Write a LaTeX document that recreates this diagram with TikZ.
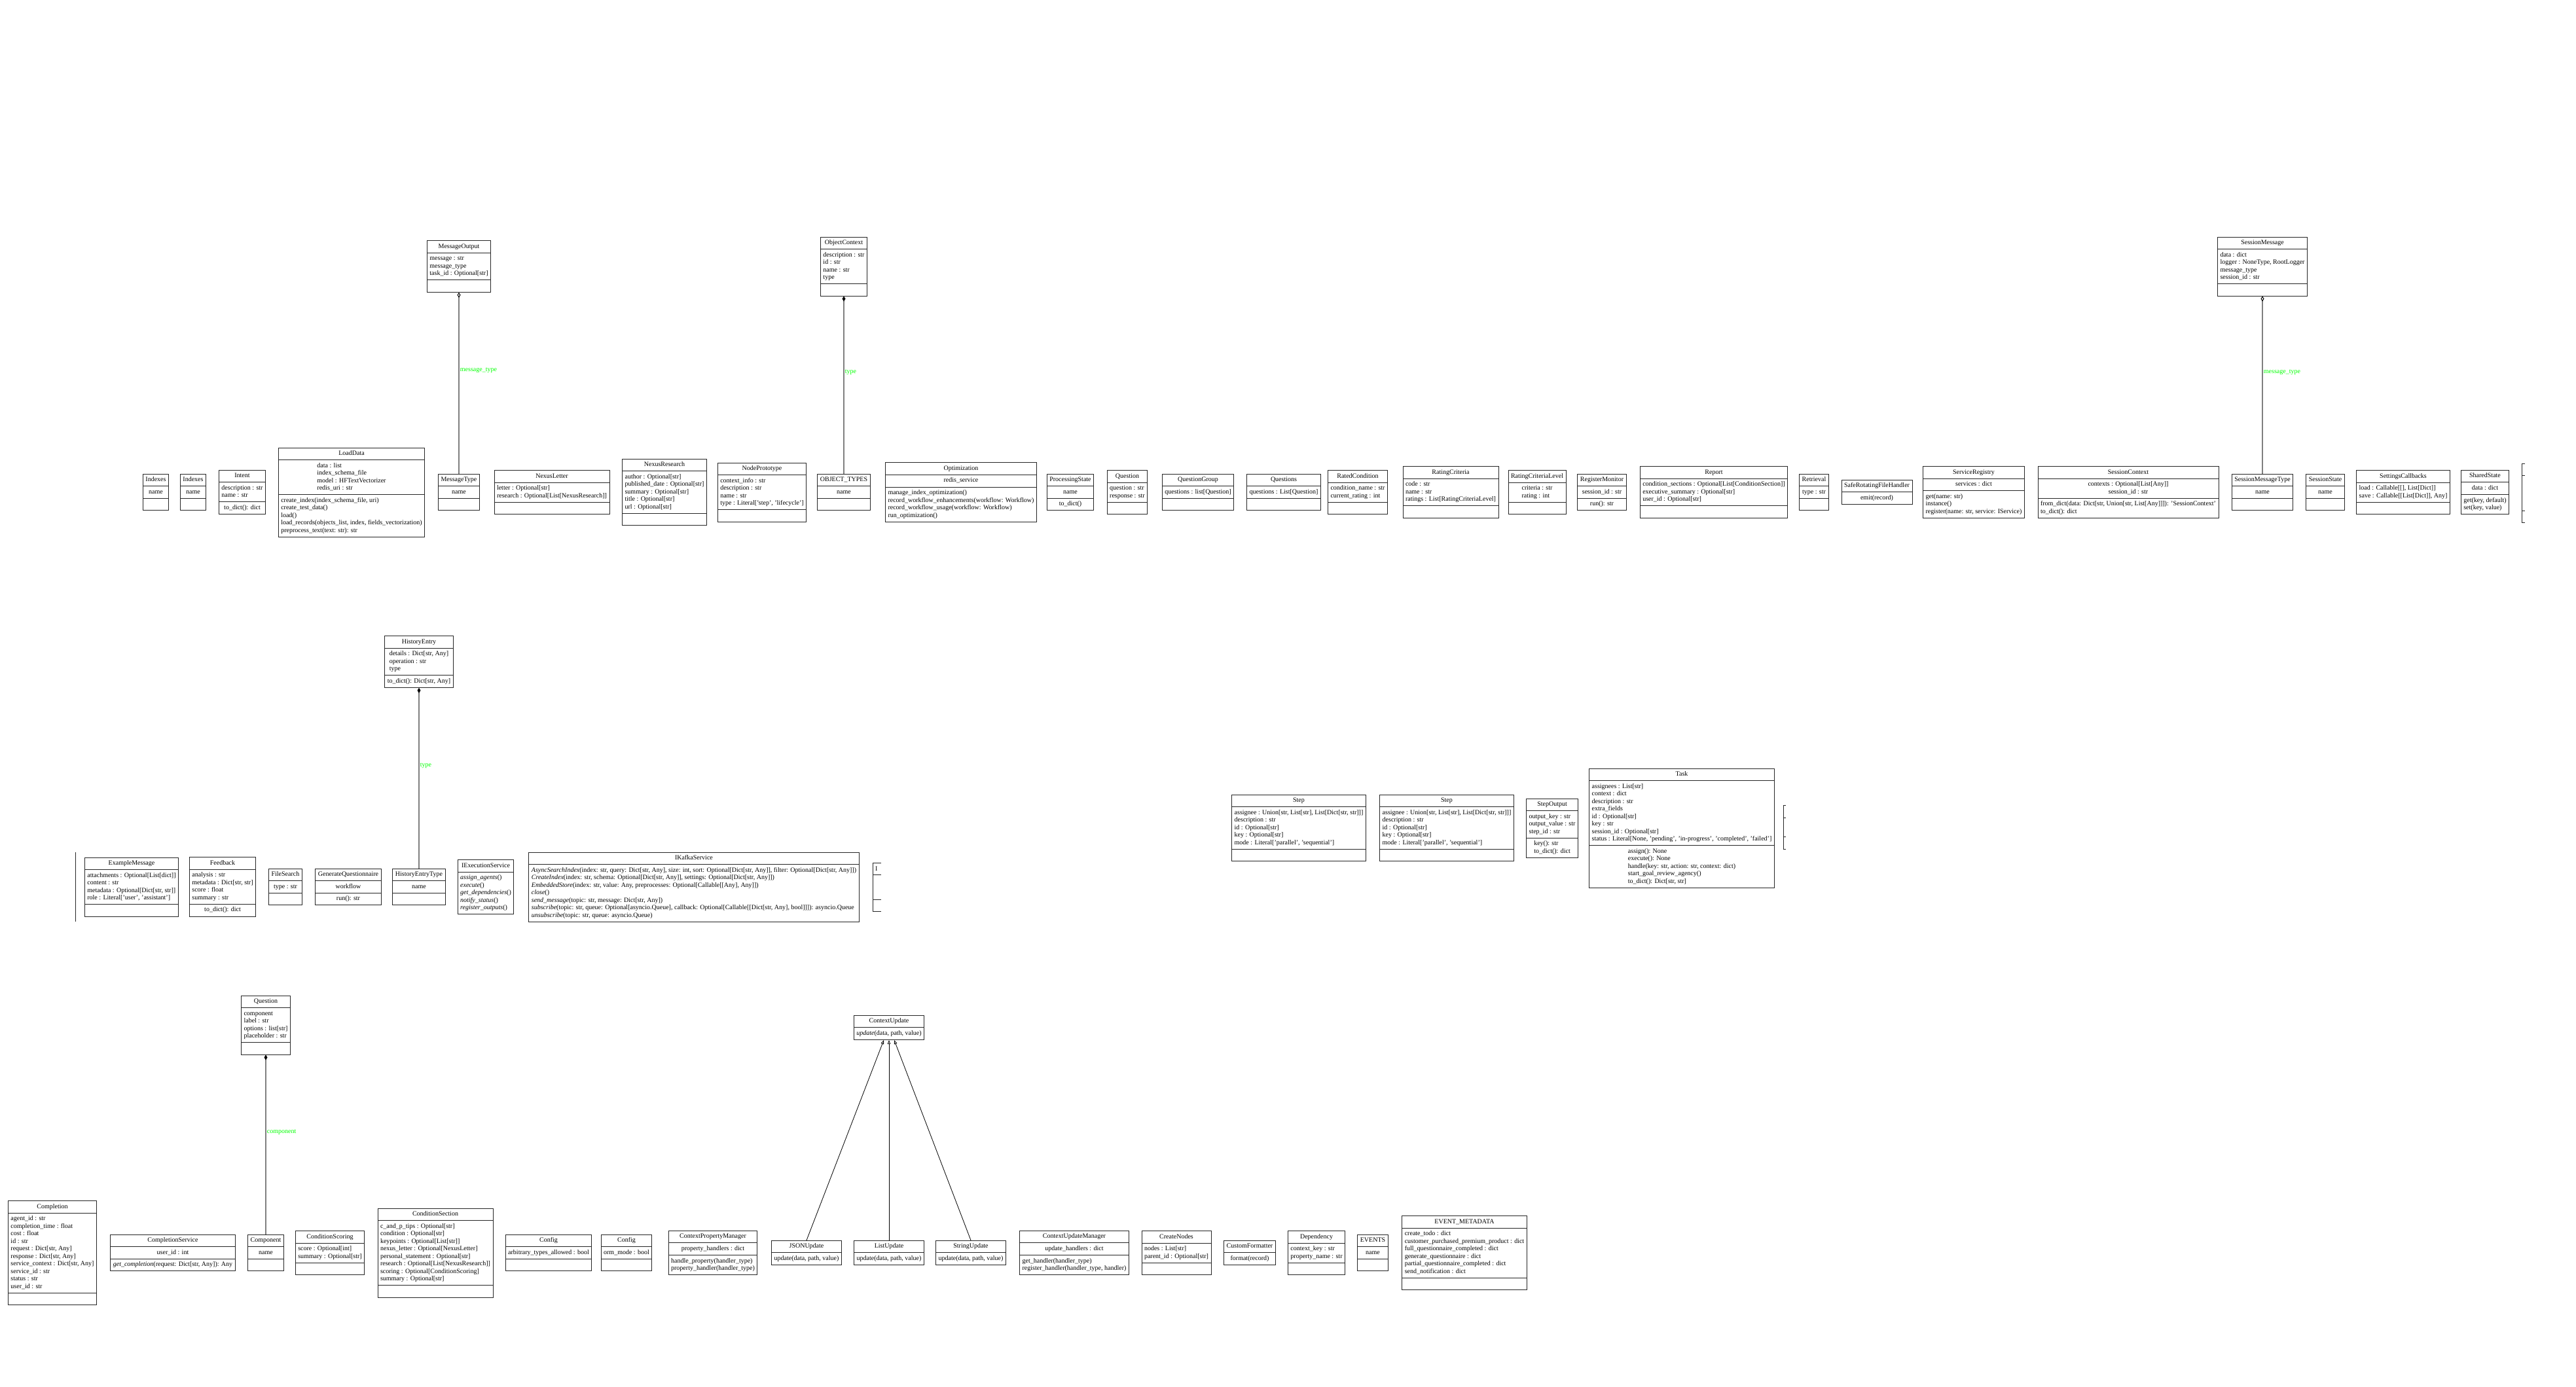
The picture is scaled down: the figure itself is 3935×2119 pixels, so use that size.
\documentclass[tikz,border=0pt]{standalone}
\usepackage{fontspec}
\setmainfont{Liberation Serif}
\usetikzlibrary{arrows.meta, shapes.multipart}
\definecolor{lblgreen}{HTML}{00FF00}
\definecolor{edgegray}{HTML}{7F7F7F}
\newcommand{\rows}[1]{\begin{tabular}{@{}l@{}}#1\end{tabular}}
\newcommand{\crows}[1]{\begin{tabular}{@{}c@{}}#1\end{tabular}}

\begin{document}
\begin{tikzpicture}[x=1pt, y=-1pt,
    cls/.style={rectangle split, rectangle split parts=3, draw=black!85,
                line width=1pt, inner xsep=4pt, inner ysep=3pt,
                font=\fontsize{10}{11.5}\selectfont, execute at begin node=\strut},
    cls2/.style={cls, rectangle split parts=2},
    frag/.style={draw=black!85, line width=1pt},
    assoc/.style={draw=edgegray, line width=1.8pt},
    agg/.style={assoc, -{Diamond[open, length=8pt, width=5pt, line width=1pt, color=black]}},
    cmp/.style={assoc, -{Diamond[length=8pt, width=5pt, color=black]}},
    inh/.style={line width=0.8pt, -{Triangle[open, length=6pt, width=4.5pt]}},
    lbl/.style={font=\fontsize{10}{11.5}\selectfont, text=lblgreen, anchor=west,
                inner sep=1pt, pos=0.57}
  ]
  \useasboundingbox (0,0) rectangle (3935,2119);
  \fill[white] (0,0) rectangle (3935,2119);

  \node[cls] (mout) at (701,407) {MessageOutput\nodepart{two}\rows{message : str\\message\_type\\task\_id : Optional[str]}\nodepart{three}\strut};
  \node[cls] (octx) at (1289,407) {ObjectContext\nodepart{two}\rows{description : str\\id : str\\name : str\\type}\nodepart{three}\strut};
  \node[cls] (smsg) at (3456,407) {SessionMessage\nodepart{two}\rows{data : dict\\logger : NoneType, RootLogger\\message\_type\\session\_id : str}\nodepart{three}\strut};

  \node[cls] (idxa) at (238,752) {Indexes\nodepart{two}\rows{name}\nodepart{three}\strut};
  \node[cls] (idxb) at (295,752) {Indexes\nodepart{two}\rows{name}\nodepart{three}\strut};
  \node[cls] (intent) at (370,752) {Intent\nodepart{two}\rows{description : str\\name : str}\nodepart{three}\rows{to\_dict(): dict}};
  \node[cls] (load) at (537,752) {LoadData\nodepart{two}\rows{data : list\\index\_schema\_file\\model : HFTextVectorizer\\redis\_uri : str}\nodepart{three}\rows{create\_index(index\_schema\_file, uri)\\create\_test\_data()\\load()\\load\_records(objects\_list, index, fields\_vectorization)\\preprocess\_text(text: str): str}};
  \node[cls] (mtype) at (701,752) {MessageType\nodepart{two}\rows{name}\nodepart{three}\strut};
  \node[cls] (nletter) at (843,752) {NexusLetter\nodepart{two}\rows{letter : Optional[str]\\research : Optional[List[NexusResearch]]}\nodepart{three}\strut};
  \node[cls] (nres) at (1015,752) {NexusResearch\nodepart{two}\rows{author : Optional[str]\\published\_date : Optional[str]\\summary : Optional[str]\\title : Optional[str]\\url : Optional[str]}\nodepart{three}\strut};
  \node[cls] (nproto) at (1164,752) {NodePrototype\nodepart{two}\rows{context\_info : str\\description : str\\name : str\\type : Literal['step', 'lifecycle']}\nodepart{three}\strut};
  \node[cls] (otypes) at (1289,752) {OBJECT\_TYPES\nodepart{two}\rows{name}\nodepart{three}\strut};
  \node[cls] (optim) at (1468,752) {Optimization\nodepart{two}\rows{redis\_service}\nodepart{three}\rows{manage\_index\_optimization()\\record\_workflow\_enhancements(workflow: Workflow)\\record\_workflow\_usage(workflow: Workflow)\\run\_optimization()}};
  \node[cls] (pstate) at (1635,752) {ProcessingState\nodepart{two}\rows{name}\nodepart{three}\rows{to\_dict()}};
  \node[cls] (quest) at (1722,752) {Question\nodepart{two}\rows{question : str\\response : str}\nodepart{three}\strut};
  \node[cls] (qgroup) at (1830,752) {QuestionGroup\nodepart{two}\rows{questions : list[Question]}\nodepart{three}\strut};
  \node[cls] (qs) at (1961,752) {Questions\nodepart{two}\rows{questions : List[Question]}\nodepart{three}\strut};
  \node[cls] (rcond) at (2074,752) {RatedCondition\nodepart{two}\rows{condition\_name : str\\current\_rating : int}\nodepart{three}\strut};
  \node[cls] (rcrit) at (2216,752) {RatingCriteria\nodepart{two}\rows{code : str\\name : str\\ratings : List[RatingCriteriaLevel]}\nodepart{three}\strut};
  \node[cls] (rlevel) at (2348,752) {RatingCriteriaLevel\nodepart{two}\rows{criteria : str\\rating : int}\nodepart{three}\strut};
  \node[cls] (regmon) at (2447,752) {RegisterMonitor\nodepart{two}\rows{session\_id : str}\nodepart{three}\rows{run(): str}};
  \node[cls] (report) at (2618,752) {Report\nodepart{two}\rows{condition\_sections : Optional[List[ConditionSection]]\\executive\_summary : Optional[str]\\user\_id : Optional[str]}\nodepart{three}\strut};
  \node[cls] (retr) at (2771,752) {Retrieval\nodepart{two}\rows{type : str}\nodepart{three}\strut};
  \node[cls2] (srfh) at (2867,752) {SafeRotatingFileHandler\nodepart{two}\rows{emit(record)}};
  \node[cls] (sreg) at (3015,752) {ServiceRegistry\nodepart{two}\rows{services : dict}\nodepart{three}\rows{get(name: str)\\instance()\\register(name: str, service: IService)}};
  \node[cls] (sctx) at (3251,752) {SessionContext\nodepart{two}\crows{contexts : Optional[List[Any]]\\session\_id : str}\nodepart{three}\rows{from\_dict(data: Dict[str, Union[str, List[Any]]]): 'SessionContext'\\to\_dict(): dict}};
  \node[cls] (smtype) at (3456,752) {SessionMessageType\nodepart{two}\rows{name}\nodepart{three}\strut};
  \node[cls] (sstate) at (3552,752) {SessionState\nodepart{two}\rows{name}\nodepart{three}\strut};
  \node[cls] (scb) at (3671,752) {SettingsCallbacks\nodepart{two}\rows{load : Callable[[], List[Dict]]\\save : Callable[[List[Dict]], Any]}\nodepart{three}\strut};
  \node[cls] (shared) at (3796,752) {SharedState\nodepart{two}\rows{data : dict}\nodepart{three}\rows{get(key, default)\\set(key, value)}};
  \draw[frag] (3857,708) -- (3852,708) -- (3852,798) -- (3857,798);
  \draw[frag] (3852,726) -- (3857,726) (3852,780) -- (3857,780);

  \node[cls] (hentry) at (640,1011) {HistoryEntry\nodepart{two}\rows{details : Dict[str, Any]\\operation : str\\type}\nodepart{three}\rows{to\_dict(): Dict[str, Any]}};

  \draw[frag] (115,1302) -- (115,1408);
  \node[cls] (exmsg) at (201,1355) {ExampleMessage\nodepart{two}\rows{attachments : Optional[List[dict]]\\content : str\\metadata : Optional[Dict[str, str]]\\role : Literal['user', 'assistant']}\nodepart{three}\strut};
  \node[cls] (feedback) at (340,1355) {Feedback\nodepart{two}\rows{analysis : str\\metadata : Dict[str, str]\\score : float\\summary : str}\nodepart{three}\rows{to\_dict(): dict}};
  \node[cls] (fsearch) at (436,1355) {FileSearch\nodepart{two}\rows{type : str}\nodepart{three}\strut};
  \node[cls] (genq) at (532,1355) {GenerateQuestionnaire\nodepart{two}\rows{workflow}\nodepart{three}\rows{run(): str}};
  \node[cls] (htype) at (640,1355) {HistoryEntryType\nodepart{two}\rows{name}\nodepart{three}\strut};
  \node[cls2] (iexec) at (742,1355) {IExecutionService\nodepart{two}\rows{\textit{assign\_agents}()\\\textit{execute}()\\\textit{get\_dependencies}()\\\textit{notify\_status}()\\\textit{register\_outputs}()}};
  \node[cls2] (ikafka) at (1060,1355) {IKafkaService\nodepart{two}\rows{\textit{AsyncSearchIndex}(index: str, query: Dict[str, Any], size: int, sort: Optional[Dict[str, Any]], filter: Optional[Dict[str, Any]])\\\textit{CreateIndex}(index: str, schema: Optional[Dict[str, Any]], settings: Optional[Dict[str, Any]])\\\textit{EmbeddedStore}(index: str, value: Any, preprocesses: Optional[Callable[[Any], Any]])\\\textit{close}()\\\textit{send\_message}(topic: str, message: Dict[str, Any])\\\textit{subscribe}(topic: str, queue: Optional[asyncio.Queue], callback: Optional[Callable[[Dict[str, Any], bool]]]): asyncio.Queue\\\textit{unsubscribe}(topic: str, queue: asyncio.Queue)}};
  \draw[frag] (1346,1318) -- (1333,1318) -- (1333,1392) -- (1346,1392);
  \draw[frag] (1333,1336) -- (1346,1336) (1333,1374) -- (1346,1374);
  \node[font=\fontsize{10}{11.5}\selectfont, anchor=west, inner sep=0pt] (ifrag) at (1337,1327) {I};

  \node[cls] (stepa) at (1984,1265) {Step\nodepart{two}\rows{assignee : Union[str, List[str], List[Dict[str, str]]]\\description : str\\id : Optional[str]\\key : Optional[str]\\mode : Literal['parallel', 'sequential']}\nodepart{three}\strut};
  \node[cls] (stepb) at (2210,1265) {Step\nodepart{two}\rows{assignee : Union[str, List[str], List[Dict[str, str]]]\\description : str\\id : Optional[str]\\key : Optional[str]\\mode : Literal['parallel', 'sequential']}\nodepart{three}\strut};
  \node[cls] (sout) at (2371,1265) {StepOutput\nodepart{two}\rows{output\_key : str\\output\_value : str\\step\_id : str}\nodepart{three}\rows{key(): str\\to\_dict(): dict}};
  \node[cls] (task) at (2569,1265) {Task\nodepart{two}\rows{assignees : List[str]\\context : dict\\description : str\\extra\_fields\\id : Optional[str]\\key : str\\session\_id : Optional[str]\\status : Literal[None, 'pending', 'in-progress', 'completed', 'failed']}\nodepart{three}\rows{assign(): None\\execute(): None\\handle(key: str, action: str, context: dict)\\start\_goal\_review\_agency()\\to\_dict(): Dict[str, str]}};
  \draw[frag] (2728,1230) -- (2724,1230) -- (2724,1297) -- (2728,1297);
  \draw[frag] (2724,1249) -- (2728,1249) (2724,1278) -- (2728,1278);

  \node[cls] (qbot) at (406,1566) {Question\nodepart{two}\rows{component\\label : str\\options : list[str]\\placeholder : str}\nodepart{three}\strut};
  \node[cls2] (cupd) at (1358,1570) {ContextUpdate\nodepart{two}\rows{\textit{update}(data, path, value)}};

  \node[cls] (compl) at (80,1914) {Completion\nodepart{two}\rows{agent\_id : str\\completion\_time : float\\cost : float\\id : str\\request : Dict[str, Any]\\response : Dict[str, Any]\\service\_context : Dict[str, Any]\\service\_id : str\\status : str\\user\_id : str}\nodepart{three}\strut};
  \node[cls] (cserv) at (264,1914) {CompletionService\nodepart{two}\rows{user\_id : int}\nodepart{three}\rows{\textit{get\_completion}(request: Dict[str, Any]): Any}};
  \node[cls] (compo) at (406,1914) {Component\nodepart{two}\rows{name}\nodepart{three}\strut};
  \node[cls] (cscore) at (504,1914) {ConditionScoring\nodepart{two}\rows{score : Optional[int]\\summary : Optional[str]}\nodepart{three}\strut};
  \node[cls] (csect) at (665,1914) {ConditionSection\nodepart{two}\rows{c\_and\_p\_tips : Optional[str]\\condition : Optional[str]\\keypoints : Optional[List[str]]\\nexus\_letter : Optional[NexusLetter]\\personal\_statement : Optional[str]\\research : Optional[List[NexusResearch]]\\scoring : Optional[ConditionScoring]\\summary : Optional[str]}\nodepart{three}\strut};
  \node[cls] (cfga) at (838,1914) {Config\nodepart{two}\rows{arbitrary\_types\_allowed : bool}\nodepart{three}\strut};
  \node[cls] (cfgb) at (957,1914) {Config\nodepart{two}\rows{orm\_mode : bool}\nodepart{three}\strut};
  \node[cls] (cprop) at (1089,1914) {ContextPropertyManager\nodepart{two}\rows{property\_handlers : dict}\nodepart{three}\rows{handle\_property(handler\_type)\\property\_handler(handler\_type)}};
  \node[cls2] (json) at (1232,1914) {JSONUpdate\nodepart{two}\rows{update(data, path, value)}};
  \node[cls2] (lupd) at (1358,1914) {ListUpdate\nodepart{two}\rows{update(data, path, value)}};
  \node[cls2] (supd) at (1483,1914) {StringUpdate\nodepart{two}\rows{update(data, path, value)}};
  \node[cls] (cman) at (1641,1914) {ContextUpdateManager\nodepart{two}\rows{update\_handlers : dict}\nodepart{three}\rows{get\_handler(handler\_type)\\register\_handler(handler\_type, handler)}};
  \node[cls] (cnodes) at (1797,1914) {CreateNodes\nodepart{two}\rows{nodes : List[str]\\parent\_id : Optional[str]}\nodepart{three}\strut};
  \node[cls2] (cfmt) at (1909,1914) {CustomFormatter\nodepart{two}\rows{format(record)}};
  \node[cls] (dep) at (2011,1914) {Dependency\nodepart{two}\rows{context\_key : str\\property\_name : str}\nodepart{three}\strut};
  \node[cls] (events) at (2097,1914) {EVENTS\nodepart{two}\rows{name}\nodepart{three}\strut};
  \node[cls] (emeta) at (2237,1914) {EVENT\_METADATA\nodepart{two}\rows{create\_todo : dict\\customer\_purchased\_premium\_product : dict\\full\_questionnaire\_completed : dict\\generate\_questionnaire : dict\\partial\_questionnaire\_completed : dict\\send\_notification : dict}\nodepart{three}\strut};

  \draw[agg] (mtype.north) -- node[lbl] {message\_type} (mout.south);
  \draw[cmp] (otypes.north) -- node[lbl] {type} (octx.south);
  \draw[agg] (smtype.north) -- node[lbl] {message\_type} (smsg.south);
  \draw[cmp] (htype.north) -- node[lbl] {type} (hentry.south);
  \draw[cmp] (compo.north) -- node[lbl] {component} (qbot.south);
  \draw[inh] (json.north) -- ([xshift=-8pt]cupd.south);
  \draw[inh] (lupd.north) -- (cupd.south);
  \draw[inh] (supd.north) -- ([xshift=8pt]cupd.south);
\end{tikzpicture}
\end{document}
